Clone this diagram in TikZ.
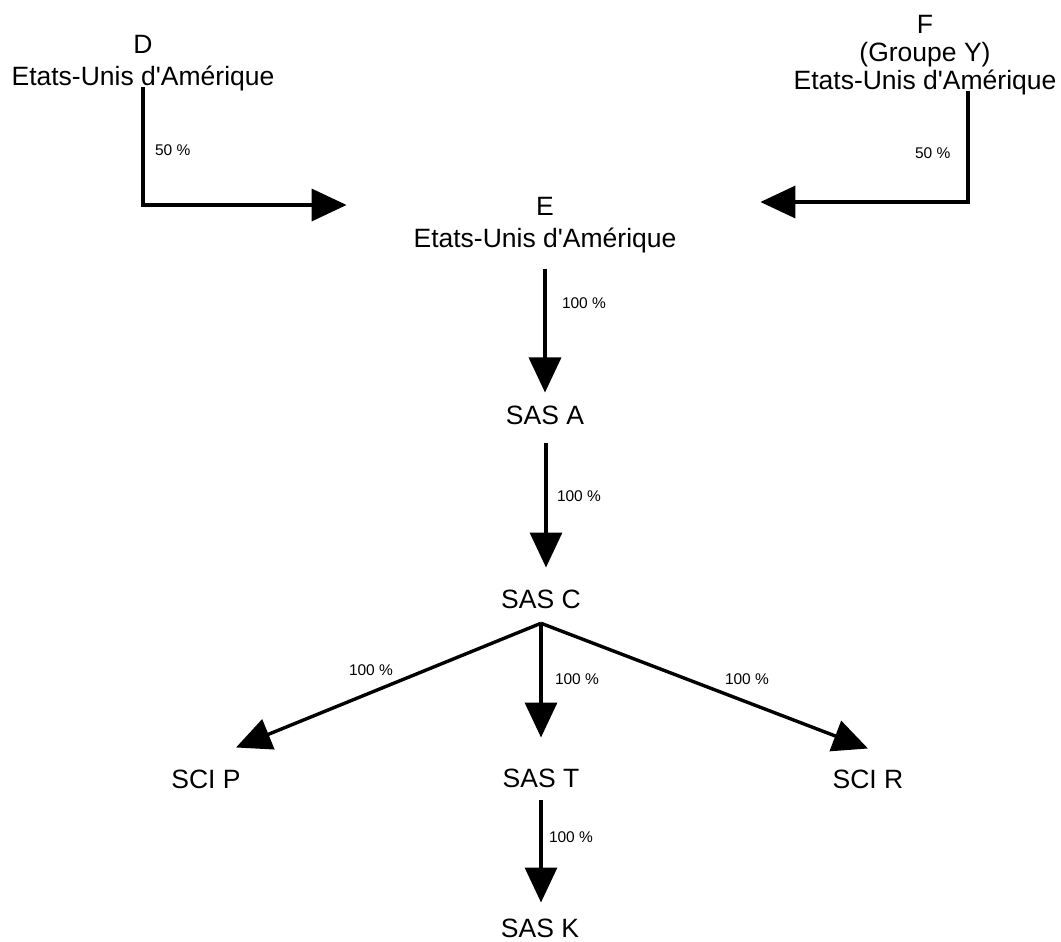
\documentclass[tikz,border=0pt]{standalone}
\usepackage{fontspec}
\setmainfont{Liberation Sans}[Ligatures=TeXOff]
\usetikzlibrary{arrows.meta,calc}
\tikzset{
  ent/.style={inner sep=0pt, outer sep=0pt, align=center, font=\fontsize{26.5}{32}\selectfont},
  pct/.style={inner sep=0pt, outer sep=0pt, anchor=base west, font=\fontsize{15.5}{18}\selectfont},
  conn/.style={line width=3.4pt, -{Triangle[length=35pt,width=32pt]}},
}
\begin{document}
\begin{tikzpicture}[x=1pt,y=-1pt]
\useasboundingbox (0,0) rectangle (1061,942);
% entities
\node[ent, anchor=north] (D) at (143,35) {D\\Etats-Unis d'Amérique};
\node[ent, anchor=north, font=\fontsize{26.5}{28}\selectfont] (F) at (925,15) {F\\(Groupe Y)\\Etats-Unis d'Amérique};
\node[ent, anchor=north] (E) at (545,197) {E\\Etats-Unis d'Amérique};
\node[ent, anchor=base] (A) at (545,424) {SAS A};
\node[ent, anchor=base] (C) at (541,608) {SAS C};
\node[ent, anchor=base] (P) at (206,788) {SCI P};
\node[ent, anchor=base] (T) at (541,787) {SAS T};
\node[ent, anchor=base] (R) at (868,788) {SCI R};
\node[ent, anchor=base] (K) at (540,937) {SAS K};
% connectors
\draw[conn] ($(D.south)+(0,-4)$) |- ($(E.north west)+(-67,8)$);
\draw[conn] ($(F.south)+(43,-4)$) |- ($(E.north east)+(84,5)$);
\draw[conn] ($(E.south)+(0,16)$) -- ($(A.north)+(0,-13)$);
\draw[conn] ($(A.south)+(1,19)$) -- ($(C.north)+(5,-22)$);
\draw[conn] ($(C.south)+(0,15)$) -- ($(P.north)+(30,-22)$);
\draw[conn] ($(C.south)+(0,15)$) -- ($(T.north)+(0,-31)$);
\draw[conn] ($(C.south)+(0,15)$) -- ($(R.north)+(0,-21)$);
\draw[conn] ($(T.south)+(0,13)$) -- ($(K.north)+(1,-16)$);
% percentages
\node[pct] (lD) at (155,155.5) {50 \%};
\node[pct] (lF) at (915,158.5) {50 \%};
\node[pct] (lE) at (562,308.5) {100 \%};
\node[pct] (lA) at (557,501.5) {100 \%};
\node[pct] (lP) at (349,675.5) {100 \%};
\node[pct] (lT) at (555,684.5) {100 \%};
\node[pct] (lR) at (725,684.5) {100 \%};
\node[pct] (lK) at (549,842.5) {100 \%};
\end{tikzpicture}
\end{document}
